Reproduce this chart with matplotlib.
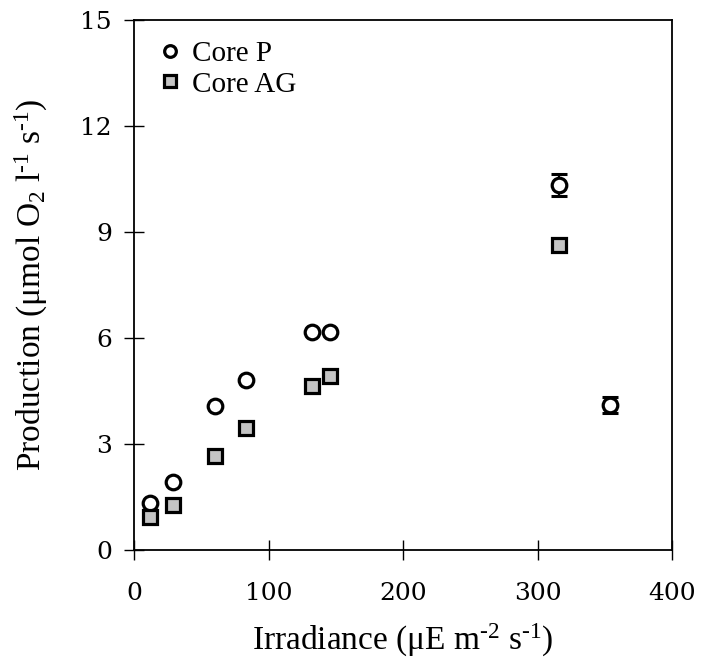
import matplotlib
matplotlib.use('Agg')
import matplotlib.pyplot as plt

# Core P (circles)
p_x = [12, 29, 60, 83, 132, 146, 316, 354]
p_y = [1.32, 1.93, 4.08, 4.82, 6.18, 6.18, 10.33, 4.10]
p_err = [0, 0, 0, 0, 0, 0, 0.31, 0.22]

# Core AG (squares)
ag_x = [12, 29, 60, 83, 132, 146, 316]
ag_y = [0.92, 1.26, 2.65, 3.45, 4.63, 4.92, 8.62]

x_ticks = [0, 100, 200, 300, 400]
y_ticks = [0, 3, 6, 9, 12, 15]

plt.rcParams['font.family'] = ['Liberation Serif', 'DejaVu Serif']
plt.rcParams['mathtext.fontset'] = 'custom'
plt.rcParams['mathtext.rm'] = 'Liberation Serif'
plt.rcParams['mathtext.it'] = 'Liberation Serif:italic'

fig = plt.figure(figsize=(7.03, 6.64), dpi=100)
ax = fig.add_axes([0.1906, 0.1717, 0.7657, 0.7982])

ax.errorbar(p_x, p_y, yerr=p_err, fmt='none', ecolor='black',
            elinewidth=1.5, capsize=6, capthick=2.2, zorder=2)
ax.plot(p_x, p_y, 'o', ms=10.5, mfc='white', mec='black', mew=2.3,
        ls='none', label='Core P', zorder=3)
ax.plot(ag_x, ag_y, 's', ms=10, mfc='#c4c4c4', mec='black', mew=2.3,
        ls='none', label='Core AG', zorder=3)

ax.set_xlim(0, 400)
ax.set_ylim(0, 15)
ax.set_xticks(x_ticks)
ax.set_yticks(y_ticks)
ax.tick_params(direction='inout', length=14, width=1, pad=9)
ax.tick_params(axis='x', pad=16)
for lab in ax.get_xticklabels() + ax.get_yticklabels():
    lab.set_family('DejaVu Serif')
    lab.set_fontsize(18)
for s in ax.spines.values():
    s.set_linewidth(1.3)

hy = '\u2010'
ax.set_xlabel('Irradiance (\u03bcE m$^{\\mathrm{' + hy + '2}}$ s$^{\\mathrm{' + hy + '1}}$)',
              fontsize=24, labelpad=12)
ax.set_ylabel('Production (\u03bcmol O$_{\\mathrm{2}}$ l$^{\\mathrm{' + hy + '1}}$ s$^{\\mathrm{' + hy + '1}}$)',
              fontsize=24, labelpad=22)

leg = ax.legend(loc='upper left', frameon=False, fontsize=21, handletextpad=0.2,
                borderaxespad=0.3, labelspacing=0.15, handlelength=1.1, markerscale=0.8)

fig.savefig('out.png', dpi=100)
